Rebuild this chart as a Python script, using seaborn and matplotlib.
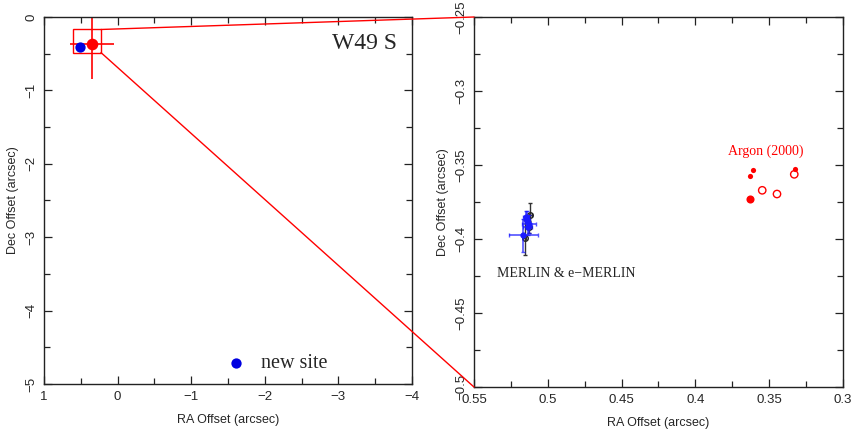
import numpy as np
import pandas as pd
import matplotlib
matplotlib.use("Agg")
import matplotlib.pyplot as plt
import seaborn as sns
from matplotlib.patches import Rectangle, ConnectionPatch
from matplotlib.ticker import MultipleLocator, FuncFormatter

# DATA
# left panel (wide view)
new_site_ra = [0.505]
new_site_dec = [-0.405]
argon_avg_ra = [0.346]
argon_avg_dec = [-0.371]
argon_avg_ra_err = [0.30]
argon_avg_dec_err = [0.47]
zoom_box_ra = [0.60, 0.225]
zoom_box_dec = [-0.17, -0.485]

# right panel (zoom)
argon_filled_ra = [0.3608, 0.3628, 0.3325]
argon_filled_dec = [-0.3534, -0.3574, -0.3527]
argon_open_ra = [0.3330, 0.3547, 0.3447]
argon_open_dec = [-0.3563, -0.3671, -0.3696]
argon_big_ra = [0.3628]
argon_big_dec = [-0.3732]

merlin_ra = [0.5166, 0.5127, 0.5140, 0.5150, 0.5135]
merlin_dec = [-0.3975, -0.3900, -0.3870, -0.3850, -0.3920]
merlin_ra_err = [0.010, 0.005, 0.002, 0.002, 0.003]
merlin_dec_err = [0.011, 0.006, 0.006, 0.004, 0.005]

emerlin_ra = [0.5120, 0.5155, 0.5130]
emerlin_dec = [-0.3840, -0.3990, -0.3920]
emerlin_ra_err = [0.001, 0.001, 0.001]
emerlin_dec_err = [0.008, 0.012, 0.004]

sns.set_style("ticks")
plt.rcParams['font.family'] = ['Liberation Sans', 'DejaVu Sans']
plt.rcParams['axes.unicode_minus'] = True

fig = plt.figure(figsize=(8.52, 4.36), dpi=100)
axL = fig.add_axes([0.0516, 0.1193, 0.4319, 0.8417])
axR = fig.add_axes([0.5563, 0.1124, 0.4331, 0.8486])

fmt = FuncFormatter(lambda v, p: ('%g' % round(v, 6)).replace('-', '\u2212'))


def style_axes(ax, major, minor):
    ax.xaxis.set_major_locator(MultipleLocator(major))
    ax.xaxis.set_minor_locator(MultipleLocator(minor))
    ax.yaxis.set_major_locator(MultipleLocator(major))
    ax.yaxis.set_minor_locator(MultipleLocator(minor))
    ax.xaxis.set_major_formatter(fmt)
    ax.yaxis.set_major_formatter(fmt)
    ax.tick_params(which='both', direction='in', top=True, right=True,
                   color='#222222', labelsize=9.5)
    ax.tick_params(which='major', length=6, width=0.9, pad=5)
    ax.tick_params(which='minor', length=4, width=0.9)
    for lbl in ax.get_yticklabels():
        lbl.set_rotation(90)
        lbl.set_va('center')
    for s in ax.spines.values():
        s.set_color('#222222')
        s.set_linewidth(1.0)
    ax.set_xlabel("RA Offset (arcsec)", fontsize=9, labelpad=8)
    ax.set_ylabel("Dec Offset (arcsec)", fontsize=9, labelpad=4)


# ---- left panel
axL.errorbar(argon_avg_ra, argon_avg_dec, xerr=argon_avg_ra_err, yerr=argon_avg_dec_err,
             fmt='none', ecolor='red', elinewidth=1.2, capsize=0, zorder=2)
sns.scatterplot(x=argon_avg_ra, y=argon_avg_dec, ax=axL, color='red', s=70,
                edgecolor='red', linewidth=0, zorder=3, legend=False)
sns.scatterplot(x=new_site_ra, y=new_site_dec, ax=axL, color='#0000e0', s=55,
                edgecolor='#0000e0', linewidth=0, zorder=3, label='new site')
axL.add_patch(Rectangle((zoom_box_ra[1], zoom_box_dec[1]),
                        zoom_box_ra[0] - zoom_box_ra[1], zoom_box_dec[0] - zoom_box_dec[1],
                        fill=False, edgecolor='red', linewidth=1.0, zorder=2))
axL.text(-3.36, -0.36, "W49 S", fontsize=17, family='Liberation Serif',
         ha='center', va='center')
axL.set_xlim(1, -4)
axL.set_ylim(-5, 0)
style_axes(axL, 1, 0.5)
leg = axL.legend(loc='center left', bbox_to_anchor=(0.445, 0.056), frameon=False,
                 prop={'family': 'Liberation Serif', 'size': 14.5},
                 handletextpad=0.25, borderaxespad=0, markerscale=1.0)

# ---- right panel
sns.scatterplot(x=argon_filled_ra, y=argon_filled_dec, ax=axR, color='red', s=14,
                edgecolor='red', linewidth=0, legend=False, zorder=3)
sns.scatterplot(x=argon_open_ra, y=argon_open_dec, ax=axR, facecolor='none', s=28,
                edgecolor='red', linewidth=1.0, legend=False, zorder=3)
sns.scatterplot(x=argon_big_ra, y=argon_big_dec, ax=axR, color='red', s=34,
                edgecolor='red', linewidth=0, legend=False, zorder=3)

axR.errorbar(emerlin_ra, emerlin_dec, xerr=emerlin_ra_err, yerr=emerlin_dec_err,
             fmt='o', ms=4, mfc='none', mec='#222222', ecolor='#333333',
             elinewidth=1.0, capsize=1.5, zorder=2)
axR.errorbar(merlin_ra, merlin_dec, xerr=merlin_ra_err, yerr=merlin_dec_err,
             fmt='o', ms=3.5, color='#1a1aff', ecolor=(0.1, 0.1, 1.0, 0.75),
             elinewidth=1.2, capsize=1.5, zorder=3)

axR.text(0.352, -0.3405, "Argon (2000)", color='red', fontsize=10,
         family='Liberation Serif', ha='center', va='center')
axR.text(0.5346, -0.4236, "MERLIN & e\u2212MERLIN", color='#222222', fontsize=10,
         family='Liberation Serif', ha='left', va='center')
axR.set_xlim(0.55, 0.3)
axR.set_ylim(-0.5, -0.25)
style_axes(axR, 0.05, 0.025)

# connector lines from zoom box to right panel
for yb, ya in [(zoom_box_dec[0], 1), (zoom_box_dec[1], 0)]:
    con = ConnectionPatch(xyA=(zoom_box_ra[1], yb), coordsA=axL.transData,
                          xyB=(0, ya), coordsB=axR.transAxes,
                          color='red', linewidth=1.0)
    fig.add_artist(con)

fig.savefig("out.png", dpi=100)
